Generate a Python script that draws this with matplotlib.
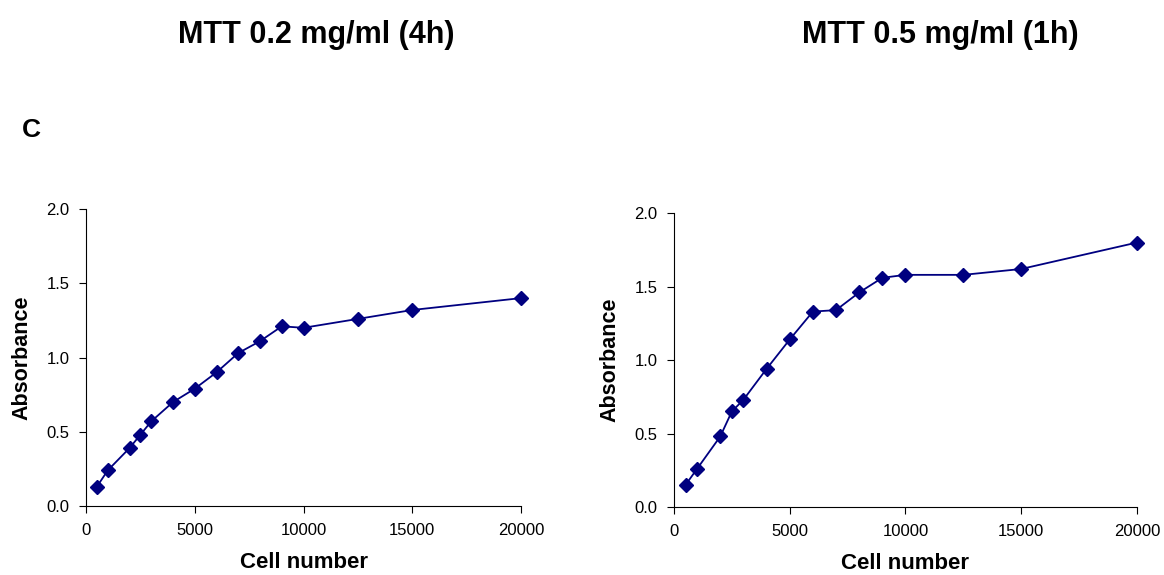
import numpy as np
import matplotlib.pyplot as plt

plt.rcParams['font.family'] = ['Liberation Sans', 'DejaVu Sans']

cells = [500, 1000, 2000, 2500, 3000, 4000, 5000, 6000, 7000, 8000, 9000, 10000, 12500, 15000, 20000]
abs_02 = [0.13, 0.24, 0.39, 0.48, 0.57, 0.70, 0.79, 0.90, 1.03, 1.11, 1.21, 1.20, 1.26, 1.32, 1.40]
abs_05 = [0.15, 0.26, 0.48, 0.65, 0.73, 0.94, 1.14, 1.33, 1.34, 1.46, 1.56, 1.58, 1.58, 1.62, 1.80]
titles = ["MTT 0.2 mg/ml (4h)", "MTT 0.5 mg/ml (1h)"]

fig = plt.figure(figsize=(11.64, 5.75), dpi=100)
ax1 = fig.add_axes([0.0739, 0.12, 0.3737, 0.5165])
ax2 = fig.add_axes([0.579, 0.1183, 0.3978, 0.511])

navy = '#000080'
for ax, vals in [(ax1, abs_02), (ax2, abs_05)]:
    ax.plot(cells, vals, color=navy, lw=1.3, marker='D', ms=7, mfc=navy, mec=navy,
            clip_on=False)
    ax.set_xlim(0, 20000)
    ax.set_ylim(0, 2.0)
    ax.set_xticks([0, 5000, 10000, 15000, 20000])
    ax.set_yticks([0, 0.5, 1.0, 1.5, 2.0])
    ax.set_yticklabels(['0.0', '0.5', '1.0', '1.5', '2.0'])
    ax.spines['top'].set_visible(False)
    ax.spines['right'].set_visible(False)
    ax.tick_params(direction='out', length=5, width=0.8, labelsize=12, pad=7)
    ax.set_xlabel('Cell number', fontsize=16, fontweight='bold', labelpad=10)
    ax.set_ylabel('Absorbance', fontsize=15.5, fontweight='bold', labelpad=10)

fig.text(316 / 1164, 1 - 35 / 575, titles[0], ha='center', va='center', fontsize=22, fontweight='bold')
fig.text(940 / 1164, 1 - 35 / 575, titles[1], ha='center', va='center', fontsize=22, fontweight='bold')
fig.text(22 / 1164, 1 - 130 / 575, 'C', ha='left', va='center', fontsize=19, fontweight='bold')

fig.savefig('out.png', dpi=100)
